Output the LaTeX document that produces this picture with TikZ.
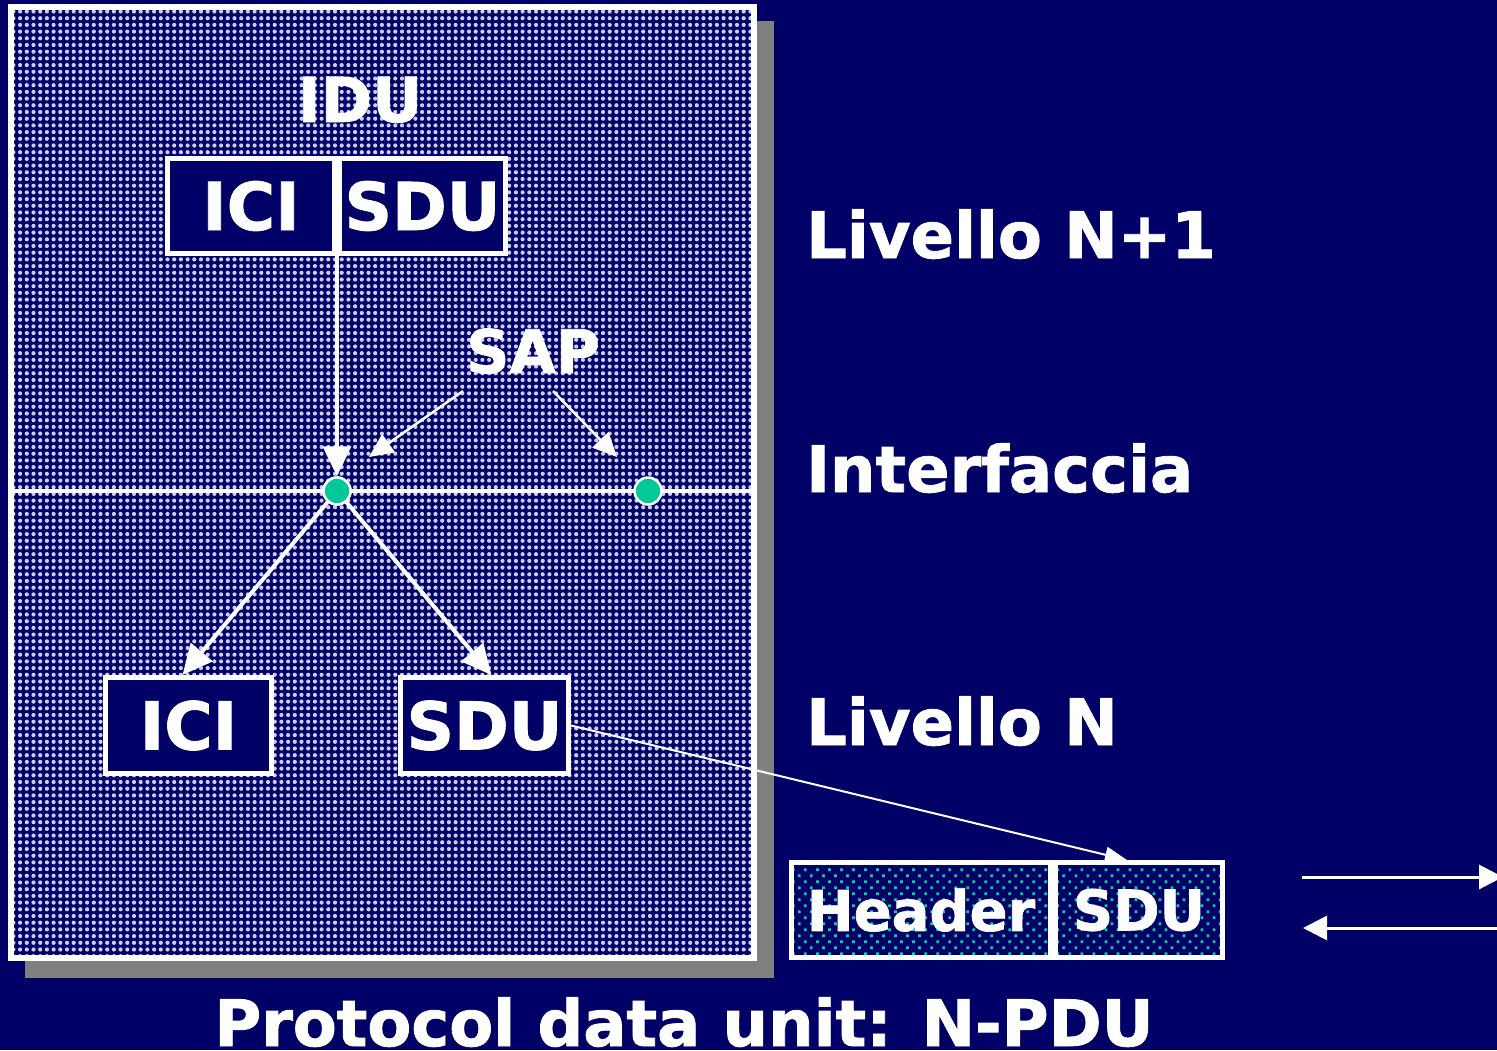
\documentclass[tikz,border=0pt]{standalone}
\usepackage{fontspec}
\setmainfont{DejaVu Sans}[BoldFont={DejaVu Sans Bold},BoldFeatures={FakeBold=1.3}]
\usetikzlibrary{arrows.meta,patterns.meta,calc}
\definecolor{navy}{RGB}{0,0,102}
\definecolor{lav}{RGB}{205,205,250}
\definecolor{tealdot}{RGB}{0,214,160}
\definecolor{sapgreen}{RGB}{0,200,150}
\definecolor{shadowgray}{RGB}{128,128,128}
\begin{document}
\begin{tikzpicture}[x=1pt,y=-1pt,
  lbl/.style={text=white,inner sep=0,font=\bfseries\fontsize{64}{70}\selectfont},
  box/.style={draw=white,line width=5pt,fill=navy,inner sep=0,text=white,
    font=\bfseries\fontsize{66}{70}\selectfont,minimum height=95pt},
  dotbox/.style={draw=white,line width=5pt,inner sep=0,text=white,
    preaction={fill=navy},pattern={Dots[distance=8.5pt,radius=1.9pt,angle=45]},pattern color=tealdot,
    font=\bfseries\fontsize{56}{60}\selectfont,minimum height=95pt},
  sapdot/.style={circle,fill=sapgreen,draw=white,line width=2.5pt,minimum size=27pt,inner sep=0},
  bigarrow/.style={white,line width=4pt,-{Triangle[length=30pt,width=28pt]}},
  thinarrow/.style={white,line width=2.5pt,-{Triangle[length=24pt,width=22pt]}},
  linkarrow/.style={white,line width=2pt,-{Triangle[length=22pt,width=16pt]}},
  sidearrow/.style={white,line width=3pt,-{Triangle[length=24pt,width=24pt]}}
]
\useasboundingbox (0,0) rectangle (1497,1050);
\fill[navy] (0,0) rectangle (1497,1050);
% panel
\fill[shadowgray] (25,21) rectangle (774,978);
\draw[white,line width=6pt,preaction={fill=navy},
  pattern={Dots[distance=6.7pt,radius=2.1pt]},pattern color=lav] (11,7) rectangle (754,958);
\draw[white,line width=4pt] (11,491) -- (754,491);
% texts
\node[lbl,anchor=base,font=\bfseries\fontsize{62}{64}\selectfont] (idu) at (360,122) {IDU};
\node[box,minimum width=167pt] (icit) at (251,206) {ICI};
\node[box,minimum width=166pt] (sdut) at (422.5,206) {SDU};
\node[lbl,anchor=base,font=\bfseries\fontsize{60}{62}\selectfont] (sap) at (533,373) {SAP};
\node[box,minimum width=166pt,minimum height=96pt] (icib) at (188.5,725.5) {ICI};
\node[box,minimum width=168pt,minimum height=96pt] (sdub) at (484.5,725.5) {SDU};
\node[dotbox,minimum width=259pt] (hdr) at (921,910) {Header};
\node[dotbox,minimum width=167pt] (sdup) at (1139,910) {SDU};
\node[lbl,anchor=base west] (ln1) at (806,258) {Livello N+1};
\node[lbl,anchor=base west] (intf) at (806,492) {Interfaccia};
\node[lbl,anchor=base west] (ln) at (806,745) {Livello N};
\node[lbl,anchor=base,font=\bfseries\fontsize{64}{66}\selectfont] (pdu) at (684,1046) {Protocol data unit: N-PDU};
% SAP points
\node[sapdot] (d1) at (337,491) {};
\node[sapdot] (d2) at (648,491) {};
% arrows
\draw[bigarrow] (d1 |- icit.south) -- (d1.north);
\draw[bigarrow] (d1) -- ($(icib.north)+(-6,0)$);
\draw[bigarrow] (d1) -- ($(sdub.north)+(7,0)$);
\node[sapdot] at (d1) {};
\coordinate (tipL) at (369,457);
\coordinate (tipR) at (617,457);
\draw[thinarrow] ($(sap.south west)+(-3,17)$) -- (tipL);
\draw[thinarrow] ($(sap.south)+(20,17)$) -- (tipR);
\draw[linkarrow] (sdub.east) -- ($(sdup.north)+(-12,0)$);
\coordinate (r1a) at (1302,877);
\coordinate (r1b) at (1503,877);
\coordinate (r2a) at (1497,928);
\coordinate (r2b) at (1303,928);
\draw[sidearrow] (r1a) -- (r1b);
\draw[sidearrow] (r2a) -- (r2b);
\end{tikzpicture}
\end{document}
